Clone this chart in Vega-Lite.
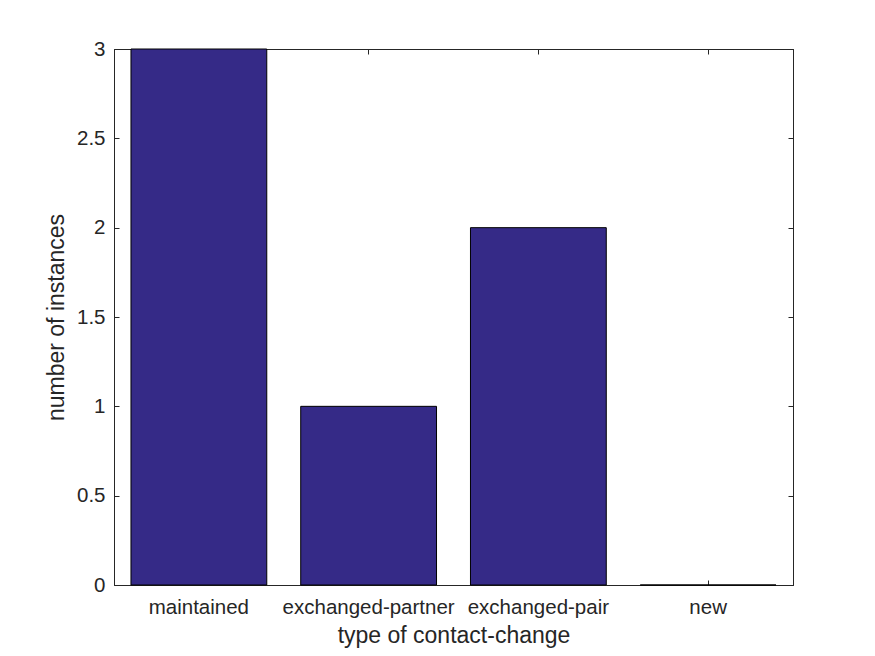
{
  "$schema": "https://vega.github.io/schema/vega-lite/v6.json",
  "width": 679,
  "height": 536,
  "autosize": {"type": "none"},
  "padding": {"left": 114, "top": 49, "right": 82, "bottom": 71},
  "background": "white",
  "config": {
    "view": {"stroke": "#262626", "strokeWidth": 1},
    "font": "Liberation Sans",
    "axis": {
      "domainColor": "#262626",
      "tickColor": "#262626",
      "labelColor": "#262626",
      "titleColor": "#262626",
      "labelFont": "Liberation Sans",
      "titleFont": "Liberation Sans",
      "labelFontSize": 20.5,
      "titleFontSize": 23,
      "titleFontWeight": "normal",
      "grid": false,
      "tickSize": -5,
      "domainWidth": 1
    }
  },
  "data": {
    "values": [
      {"type": "maintained", "count": 3},
      {"type": "exchanged-partner", "count": 1},
      {"type": "exchanged-pair", "count": 2},
      {"type": "new", "count": 0}
    ]
  },
  "layer": [
    {
      "mark": {"type": "bar", "fill": "#352a87", "stroke": "#000000", "strokeWidth": 1},
      "encoding": {
        "x": {
          "field": "type",
          "type": "nominal",
          "sort": null,
          "scale": {"paddingInner": 0.2, "paddingOuter": 0.1},
          "axis": {"title": "type of contact-change", "labelAngle": 0, "labelPadding": 17, "titlePadding": 7, "orient": "bottom"}
        },
        "y": {
          "field": "count",
          "type": "quantitative",
          "scale": {"domain": [0, 3], "nice": false},
          "axis": {"title": "number of instances", "values": [0, 0.5, 1, 1.5, 2, 2.5, 3], "format": "~g", "labelPadding": 14, "titlePadding": 8, "orient": "left"}
        }
      }
    },
    {
      "mark": {"type": "bar", "opacity": 0},
      "encoding": {
        "x": {
          "field": "type",
          "type": "nominal",
          "sort": null,
          "axis": {"title": null, "labels": false, "orient": "top"}
        },
        "y": {
          "field": "count",
          "type": "quantitative",
          "axis": {"title": null, "labels": false, "values": [0, 0.5, 1, 1.5, 2, 2.5, 3], "orient": "right"}
        }
      }
    }
  ]
}
